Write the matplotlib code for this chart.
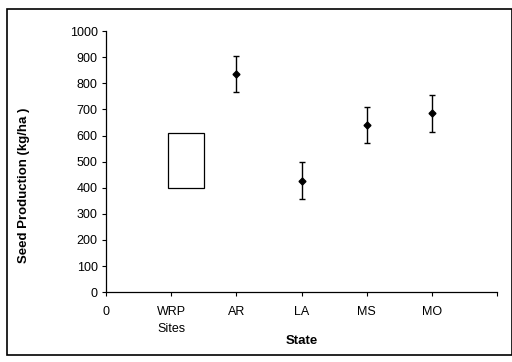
import matplotlib.pyplot as plt
from matplotlib.patches import Rectangle

plt.rcParams['font.family'] = ['Liberation Sans', 'DejaVu Sans']

states = ['AR', 'LA', 'MS', 'MO']
state_pos = [2, 3, 4, 5]
means = [835, 425, 640, 685]
err_low = [765, 355, 570, 615]
err_high = [905, 500, 710, 755]

# WRP sites range (box)
wrp_low = 400
wrp_high = 610

tick_labels = ['0', 'WRP\nSites', 'AR', 'LA', 'MS', 'MO', '']

fig = plt.figure(figsize=(5.12, 3.62), dpi=100)
ax = fig.add_axes([0.207, 0.193, 0.764, 0.721])

yerr = [[m - lo for m, lo in zip(means, err_low)],
        [hi - m for m, hi in zip(means, err_high)]]
ax.errorbar(state_pos, means, yerr=yerr, fmt='D', color='black',
            markersize=3.5, elinewidth=1, capsize=2.5, capthick=1)

ax.add_patch(Rectangle((0.95, wrp_low), 0.55, wrp_high - wrp_low,
                       fill=False, edgecolor='black', linewidth=0.9))

ax.set_xlim(0, 6)
ax.set_ylim(0, 1000)
ax.set_yticks(range(0, 1001, 100))
ax.set_xticks(range(0, 7))
ax.set_xticklabels(tick_labels, linespacing=1.5)
ax.tick_params(labelsize=9, length=3, width=0.8, pad=7)
ax.tick_params(axis='y', pad=3)
for s in ['top', 'right']:
    ax.spines[s].set_visible(False)
for s in ['left', 'bottom']:
    ax.spines[s].set_linewidth(0.9)

ax.set_xlabel('State', fontsize=9.5, fontweight='bold')
ax.xaxis.set_label_coords(0.5, -0.165)
ax.set_ylabel('Seed Production (kg/ha )', fontsize=9.5, fontweight='bold')
ax.yaxis.set_label_coords(-0.195, 0.41)

# outer frame of the figure
fig.patches.append(Rectangle((0.014, 0.02), 0.986, 0.955, transform=fig.transFigure,
                             fill=False, edgecolor='black', linewidth=1.2))

fig.savefig('out.png', dpi=100)
